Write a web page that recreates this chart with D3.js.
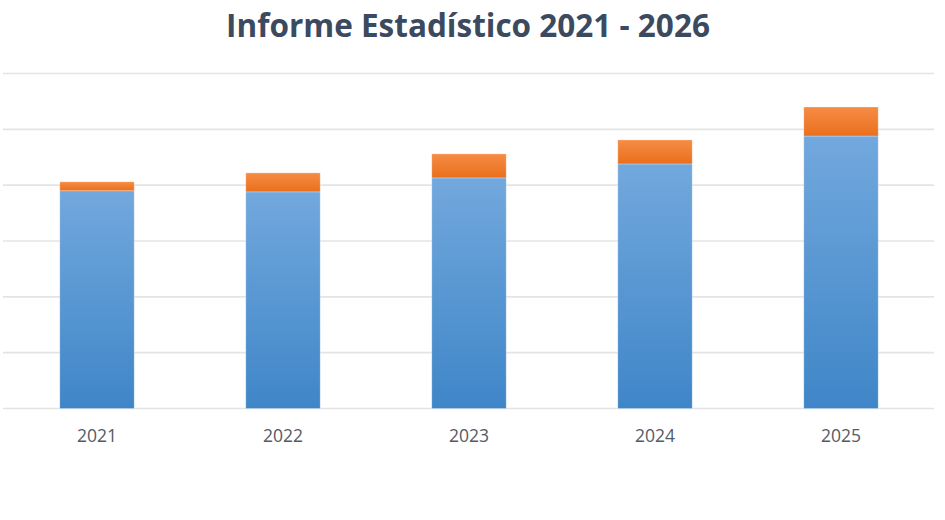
<!DOCTYPE html>
<html>
<head>
<meta charset="utf-8">
<script src="https://cdn.jsdelivr.net/npm/d3@7"></script>
<style>
  body { margin: 0; background: #fff; }
</style>
</head>
<body>
<div id="chart"></div>
<script>
const width = 945, height = 520;

// Data (gridline step = 10 units)
const years = ["2021", "2022", "2023", "2024", "2025"];
const baseValues = [39.0, 38.8, 41.3, 43.8, 48.8];
const extraValues = [1.6, 3.4, 4.3, 4.3, 5.2];
const gridTicks = [0, 10, 20, 30, 40, 50, 60];

const rows = years.map((y, i) => ({ year: y, base: baseValues[i], extra: extraValues[i] }));
const series = d3.stack().keys(["base", "extra"])(rows);

const svg = d3.select("#chart")
  .append("svg")
  .attr("width", width)
  .attr("height", height);

// Gradients
const defs = svg.append("defs");
const blue = defs.append("linearGradient")
  .attr("id", "gBlue").attr("x1", 0).attr("y1", 0).attr("x2", 0).attr("y2", 1);
blue.append("stop").attr("offset", "0%").attr("stop-color", "#72a8dd");
blue.append("stop").attr("offset", "100%").attr("stop-color", "#3f86c8");
const orange = defs.append("linearGradient")
  .attr("id", "gOrange").attr("x1", 0).attr("y1", 0).attr("x2", 0).attr("y2", 1);
orange.append("stop").attr("offset", "0%").attr("stop-color", "#f68c44");
orange.append("stop").attr("offset", "100%").attr("stop-color", "#ea6f1d");

// Scales
const x = d3.scaleBand()
  .domain(years)
  .range([4, 934])
  .paddingInner(0.6)
  .paddingOuter(0.3);

const y = d3.scaleLinear()
  .domain([0, 60])
  .range([408.5, 73.5]);

// Gridlines
svg.append("g")
  .selectAll("line")
  .data(gridTicks)
  .enter()
  .append("line")
  .attr("x1", 3)
  .attr("x2", 934)
  .attr("y1", d => y(d))
  .attr("y2", d => y(d))
  .attr("stroke", "#e4e4e4")
  .attr("stroke-width", 1.6);

// Bars
const fills = ["url(#gBlue)", "url(#gOrange)"];
svg.append("g")
  .selectAll("g")
  .data(series)
  .enter()
  .append("g")
  .attr("fill", (d, i) => fills[i])
  .selectAll("rect")
  .data(d => d)
  .enter()
  .append("rect")
  .attr("x", d => x(d.data.year))
  .attr("width", x.bandwidth())
  .attr("y", d => y(d[1]))
  .attr("height", d => y(d[0]) - y(d[1]))
  .attr("stroke", "#ffffff")
  .attr("stroke-opacity", 0.35)
  .attr("stroke-width", 0.8);

// X axis labels
const xAxis = svg.append("g")
  .attr("transform", `translate(0,${y(0)})`)
  .call(d3.axisBottom(x).tickSize(0).tickPadding(21));
xAxis.select(".domain").remove();
xAxis.selectAll("text")
  .attr("font-family", "'Open Sans', sans-serif")
  .attr("font-size", 17.5)
  .attr("fill", "#525b66");

// Title
svg.append("text")
  .attr("x", 468)
  .attr("y", 37)
  .attr("text-anchor", "middle")
  .attr("font-family", "'Open Sans', sans-serif")
  .attr("font-weight", "bold")
  .attr("font-size", 31.5)
  .attr("fill", "#3b4a5f")
  .text("Informe Estadístico 2021 - 2026");
</script>
</body>
</html>
